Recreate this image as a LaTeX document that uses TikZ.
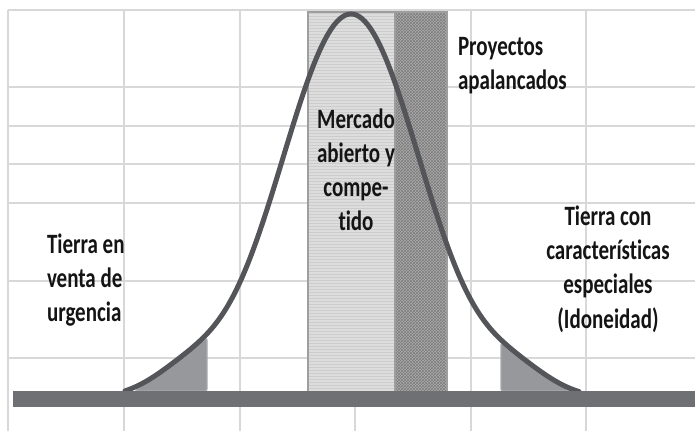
\documentclass[tikz,border=0pt]{standalone}
\usepackage{fontspec}
\setmainfont{Carlito}[Ligatures=NoCommon]
\usetikzlibrary{patterns}
\tikzset{
  labelText/.style={text=textColor,inner sep=0pt,outer sep=0pt,
    font=\fontsize{28}{34}\selectfont\bfseries,xscale=0.75},
}
\begin{document}
\begin{tikzpicture}[x=1pt,y=1pt]
\definecolor{fillColor}{RGB}{255,255,255}
\definecolor{textColor}{RGB}{20,20,20}
\path[use as bounding box,fill=fillColor] (0,0) rectangle (695,431);
\definecolor{drawColor}{RGB}{216,216,216}

\path[draw=drawColor,line width= 1.6pt] (  8,421) -- (695,421);

\path[draw=drawColor,line width= 1.6pt] (  8,344) -- (695,344);

\path[draw=drawColor,line width= 1.6pt] (  8,305) -- (695,305);

\path[draw=drawColor,line width= 1.6pt] (  8,267) -- (695,267);

\path[draw=drawColor,line width= 1.6pt] (  8,228) -- (695,228);

\path[draw=drawColor,line width= 1.6pt] (  8,150) -- (695,150);

\path[draw=drawColor,line width= 1.6pt] (  8, 73) -- (695, 73);

\path[draw=drawColor,line width= 1.6pt] (  8,421) -- (  8,  0);

\path[draw=drawColor,line width= 1.6pt] (124,421) -- (124,  0);

\path[draw=drawColor,line width= 1.6pt] (240,421) -- (240,  0);

\path[draw=drawColor,line width= 1.6pt] (355,421) -- (355,  0);

\path[draw=drawColor,line width= 1.6pt] (471,421) -- (471,  0);

\path[draw=drawColor,line width= 1.6pt] (586,421) -- (586,  0);
\definecolor{fillColor}{RGB}{221,221,221}
\definecolor{patternColor}{RGB}{204,204,204}

\path[fill=fillColor] (308, 39) rectangle (395,419);

\path[pattern=horizontal lines,pattern color=patternColor] (308, 39) rectangle (395,419);
\definecolor{fillColor}{RGB}{172,172,172}
\definecolor{patternColor}{RGB}{124,124,124}

\path[fill=fillColor] (395, 39) rectangle (447,419);

\path[pattern=crosshatch,pattern color=patternColor] (395, 39) rectangle (447,419);
\definecolor{drawColor}{RGB}{158,158,158}

\path[draw=drawColor,line width= 2.4pt] (308, 39) rectangle (395,419);

\path[draw=drawColor,line width= 2.4pt] (395, 39) rectangle (447,419);
\definecolor{fillColor}{RGB}{150,152,155}
\definecolor{drawColor}{RGB}{168,170,172}

\path[fill=fillColor,draw=drawColor,line width= 1.2pt,rounded corners=2pt] (135, 40) --
	(207, 93) --
	(207, 40) --
	cycle;

\path[fill=fillColor,draw=drawColor,line width= 1.2pt,rounded corners=2pt] (501, 88) --
	(570, 40) --
	(501, 40) --
	cycle;
\definecolor{drawColor}{RGB}{84,85,89}

\path[draw=drawColor,line width= 5pt,line join=round,line cap=round] plot[domain=125:579,samples=160]
	(\x,{39+378*(exp(-0.5*((\x-351)/70)^2)+0.055*exp(-((abs(\x-351)-165)/50)^2)-0.015)/0.985});
\definecolor{fillColor}{RGB}{110,112,116}

\path[fill=fillColor] ( 13, 24) rectangle (695, 40);

\node[labelText,anchor=base west,align=left] (urgencia) at ( 47,110) {Tierra en\\venta de\\urgencia};

\node[labelText,anchor=base,align=center] (mercado) at (356,200) {Mercado\\abierto y\\compe-\\tido};

\node[labelText,anchor=base west,align=left] (proyectos) at (458,341) {Proyectos\\apalancados};

\node[labelText,anchor=base,align=center] (idoneidad) at (608,103) {Tierra con\\características\\especiales\\(Idoneidad)};
\end{tikzpicture}
\end{document}
